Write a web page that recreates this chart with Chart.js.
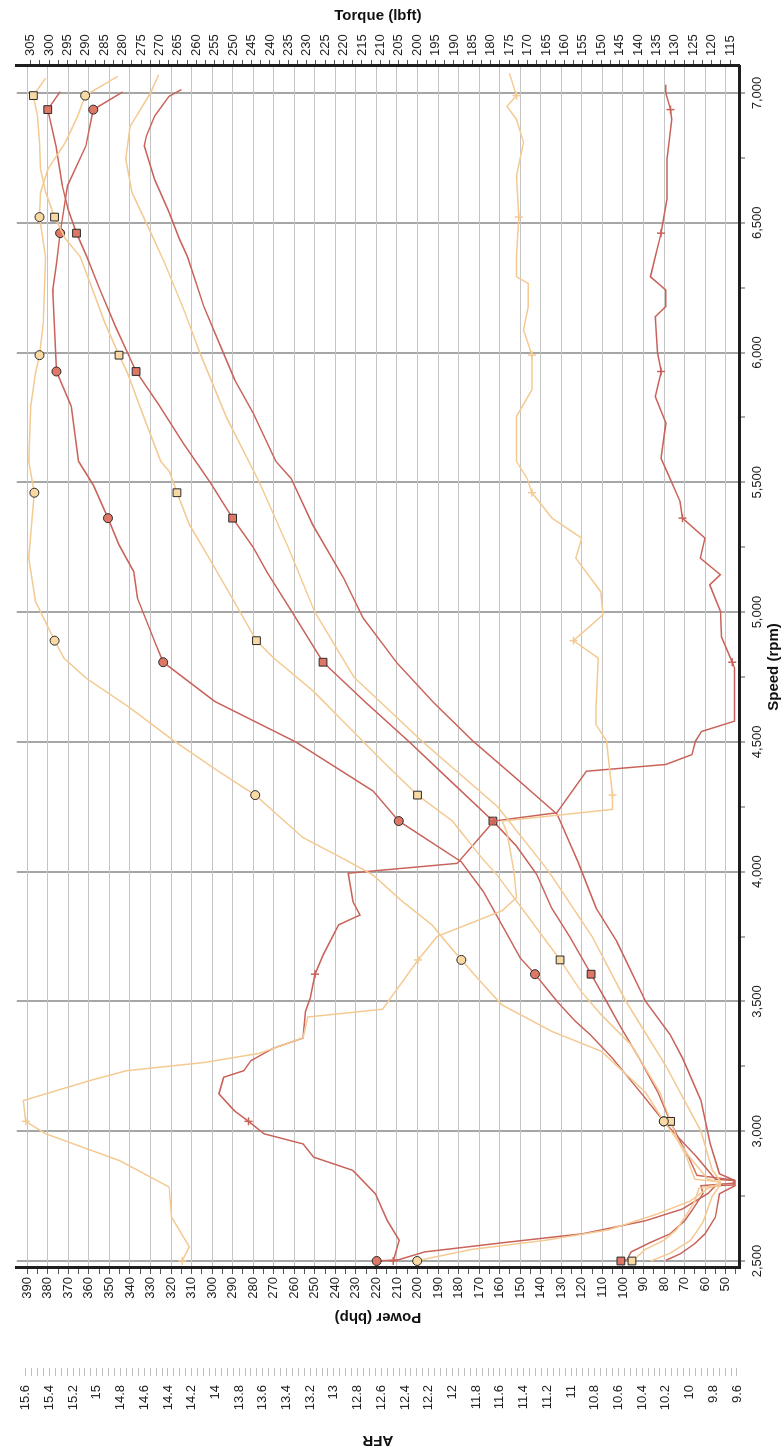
<!DOCTYPE html>
<html>
<head>
<meta charset="utf-8">
<script src="https://cdn.jsdelivr.net/npm/chart.js@4.4.1/dist/chart.umd.min.js"></script>
<style>
  html, body { margin: 0; padding: 0; background: #fff; overflow: hidden; }
  body { width: 783px; height: 1456px; position: relative; }
  /* the dyno sheet is scanned sideways: draw it landscape, then turn it */
  #dyno { position: absolute; left: 0; top: 0; transform-origin: 0 0;
          transform: translateY(1456px) rotate(-90deg); }
</style>
</head>
<body>
<canvas id="dyno" width="1456" height="783"></canvas>
<script>
// ---- tick labels ----
const speedTicks = [2500, 3000, 3500, 4000, 4500, 5000, 5500, 6000, 6500, 7000];
const powerTicks = [390, 380, 370, 360, 350, 340, 330, 320, 310, 300, 290, 280, 270, 260, 250, 240, 230, 220,
  210, 200, 190, 180, 170, 160, 150, 140, 130, 120, 110, 100, 90, 80, 70, 60, 50];
const torqueTicks = [305, 300, 295, 290, 285, 280, 275, 270, 265, 260, 255, 250, 245, 240, 235, 230, 225, 220,
  215, 210, 205, 200, 195, 190, 185, 180, 175, 170, 165, 160, 155, 150, 145, 140, 135, 130, 125, 120, 115];
const afrTicks = [15.6, 15.4, 15.2, 15, 14.8, 14.6, 14.4, 14.2, 14, 13.8, 13.6, 13.4, 13.2, 13, 12.8, 12.6,
  12.4, 12.2, 12, 11.8, 11.6, 11.4, 11.2, 11, 10.8, 10.6, 10.4, 10.2, 10, 9.8, 9.6];

// ---- marker positions (rpm) for each run ----
const redMarks = [2500, 3038, 3605, 4195, 4807, 5362, 5927, 6460, 6936];
const peachMarks = [2500, 3038, 3660, 4295, 4890, 5460, 5990, 6522, 6990];

// ---- run 1 (red) ----
const redPowerRpm = [2500, 2505, 2535, 2570, 2605, 2655, 2700, 2760, 2790, 2800, 2812, 2830, 2900, 2960, 3038,
  3150, 3280, 3400, 3500, 3605, 3750, 3860, 3990, 4100, 4195, 4350, 4500, 4650, 4807, 5000, 5150, 5250, 5362,
  5500, 5650, 5800, 5927, 6100, 6250, 6370, 6460, 6550, 6645, 6795, 6936, 7005];
const redPowerBhp = [101, 98, 96, 87, 77, 70, 66, 61, 62, 46, 46, 64, 68, 72, 77,
  83, 92, 101, 108, 115.5, 126, 134.7, 142, 152, 163.3, 184, 204, 225, 246, 261, 273, 280, 290,
  301, 314, 326, 337, 347, 355, 361, 366, 370, 373, 376, 380, 374];

const redTorqueRpm = [2500, 2505, 2535, 2570, 2605, 2655, 2700, 2760, 2790, 2793, 2810, 2815, 2900, 2960, 3038,
  3144, 3282, 3372, 3423, 3500, 3605, 3667, 3795, 3923, 4038, 4195, 4311, 4500, 4656, 4807, 4875, 5054, 5156,
  5259, 5362, 5490, 5581, 5793, 5927, 6241, 6343, 6460, 6643, 6796, 6936, 7004];
const redTorqueLbft = [211, 205, 198, 177, 155, 138, 128, 121, 119, 114, 114, 119, 124, 128, 133,
  139, 147, 153, 157, 162, 168, 172, 177, 182, 188, 205, 212, 233, 255, 269, 271, 276, 277,
  281, 284, 288, 292, 294, 298, 299, 298, 297, 295, 290, 288, 280];

const redExtraRpm = [2503, 2528, 2567, 2605, 2669, 2759, 2790, 2810, 2836, 2951, 3118, 3282, 3372, 3500, 3731,
  3859, 4040, 4221, 4360, 4503, 4650, 4804, 4977, 5131, 5336, 5515, 5581, 5767, 5895, 6036, 6177, 6369, 6439,
  6541, 6668, 6796, 6834, 6911, 6987, 7013];
const redExtraBhp = [79, 72, 65, 60, 55, 53, 45.5, 45.5, 53, 57.5, 62, 71, 77, 89, 103,
  113, 122, 132, 152, 173, 192, 210, 226.5, 236, 251, 261.5, 269, 280, 289, 296.5, 304, 312, 316,
  321, 328, 333, 332, 328, 321, 315];

const redAfrRpm = [2500, 2580, 2656, 2759, 2849, 2900, 2951, 2990, 3038, 3079, 3144, 3208, 3233, 3272, 3320,
  3359, 3462, 3513, 3605, 3680, 3795, 3833, 3885, 3994, 4032, 4195, 4227, 4387, 4413, 4451, 4503, 4540, 4580,
  4784, 4807, 4904, 5003, 5105, 5144, 5208, 5285, 5362, 5426, 5541, 5592, 5728, 5830, 5927, 6000, 6138, 6177,
  6241, 6292, 6369, 6460, 6592, 6745, 6898, 6936, 7000, 7032];
const redAfr = [12.5, 12.45, 12.55, 12.65, 12.84, 13.17, 13.26, 13.59, 13.72, 13.84, 13.97, 13.93, 13.76, 13.7, 13.51,
  13.26, 13.24, 13.2, 13.16, 13.09, 12.96, 12.78, 12.84, 12.88, 11.96, 11.65, 11.12, 10.87, 10.2, 9.98, 9.95, 9.9, 9.62,
  9.62, 9.64, 9.73, 9.74, 9.83, 9.74, 9.91, 9.87, 10.06, 10.08, 10.19, 10.24, 10.2, 10.29, 10.24, 10.27, 10.29, 10.2,
  10.2, 10.33, 10.29, 10.24, 10.19, 10.19, 10.15, 10.16, 10.2, 10.2];

// ---- run 2 (peach) ----
const peachPowerRpm = [2500, 2510, 2545, 2580, 2620, 2680, 2730, 2780, 2795, 2805, 2815, 2900, 2960, 3038, 3150,
  3333, 3449, 3538, 3660, 3756, 3859, 3987, 4051, 4195, 4295, 4426, 4541, 4695, 4823, 4890, 5041, 5208, 5336,
  5460, 5541, 5581, 5793, 5921, 5990, 6113, 6292, 6369, 6439, 6522, 6617, 6707, 6809, 6911, 6990, 7057];
const peachPowerBhp = [95.6, 94, 89, 80, 74, 69, 65, 63, 52.6, 52.6, 65, 69, 73, 76.8, 82,
  96, 110.6, 120.3, 130.6, 139.6, 149.2, 161.3, 168.5, 183, 200, 217, 231.4, 250.7, 270, 278.4, 289.3, 301.4, 311,
  317.1, 320.7, 325, 335.2, 341.2, 345.3, 352.1, 360.5, 364.2, 371.4, 376.7, 381, 383.5, 384, 385, 387, 381];

const peachTorqueRpm = [2500, 2510, 2545, 2580, 2620, 2680, 2730, 2780, 2795, 2805, 2815, 2900, 2960, 3038, 3150,
  3308, 3385, 3487, 3564, 3660, 3744, 3795, 3885, 3987, 4042, 4131, 4295, 4387, 4503, 4631, 4746, 4823, 4890,
  5041, 5208, 5460, 5581, 5793, 5921, 5990, 6113, 6369, 6522, 6617, 6707, 6809, 6911, 6990, 7064];
const peachTorqueLbft = [200, 197, 185, 165, 148, 135, 126, 121, 118, 118, 121, 126, 129, 133, 138,
  150, 163.5, 177, 182, 188, 193, 196, 204, 212, 219, 231, 244, 254, 266, 278, 290, 296, 298.5,
  303.7, 305.5, 304, 305.5, 305, 303.7, 302.6, 301.6, 301, 302.6, 302.3, 300.3, 295.6, 292.2, 290.2, 281.4];

const peachExtraRpm = [2500, 2530, 2580, 2650, 2750, 2793, 2808, 2850, 3000, 3250, 3500, 3750, 4000, 4250, 4500,
  4750, 5000, 5250, 5500, 5750, 6000, 6150, 6343, 6464, 6617, 6745, 6870, 7000, 7070];
const peachExtraBhp = [86.5, 77, 67, 61, 56.5, 52.6, 52.6, 56.5, 62, 79, 98.5, 115, 136, 161, 197.5,
  231, 250, 263, 277, 293, 306, 313, 323, 330, 339, 342, 340, 330, 326];

const peachAfrRpm = [2500, 2554, 2669, 2785, 2887, 2990, 3038, 3118, 3195, 3233, 3265, 3300, 3360, 3440, 3470,
  3660, 3750, 3850, 3900, 4000, 4150, 4195, 4240, 4295, 4503, 4567, 4631, 4823, 4890, 4990, 5079, 5208, 5285,
  5362, 5460, 5515, 5581, 5754, 5857, 5990, 6087, 6177, 6266, 6292, 6369, 6522, 6681, 6809, 6898, 6949, 6990, 7077];
const peachAfr = [14.28, 14.22, 14.37, 14.39, 14.81, 15.43, 15.6, 15.62, 15.06, 14.75, 14.09, 13.63, 13.26, 13.22, 12.59,
  12.29, 12.13, 11.58, 11.46, 11.48, 11.54, 11.58, 10.65, 10.65, 10.7, 10.79, 10.79, 10.77, 10.98, 10.73, 10.75, 10.96, 10.91,
  11.16, 11.33, 11.37, 11.46, 11.46, 11.33, 11.33, 11.4, 11.36, 11.36, 11.46, 11.46, 11.44, 11.46, 11.4, 11.46, 11.54, 11.46, 11.52];

// ---- styling ----
const RED = '#c9635a';
const RED_FILL = '#df7767';
const PEACH = '#f4ca92';
const PEACH_FILL = '#f8d8a3';
const FONT = "'Liberation Sans', Arial, sans-serif";
const tickFont = { family: FONT, size: 13 };
const titleFont = { family: FONT, size: 15, weight: 'bold' };

function pts(rpm, vals) {
  return rpm.map((x, i) => ({ x: x, y: vals[i] }));
}

const isMajor = (list, v) => list.some(m => Math.abs(m - v) < 1e-6);

// major ticks from the label list + (parts-1) unlabelled minor ticks between them
function tickSetter(major, parts, step) {
  return scale => {
    const out = [];
    major.forEach(v => {
      for (let k = 0; k < parts; k++) out.push(+(v - k * step / parts).toFixed(3));
    });
    scale.ticks = out
      .filter(v => v >= scale.min - 1e-6 && v <= scale.max + 1e-6)
      .sort((a, b) => a - b)
      .map(value => ({ value }));
  };
}

function lineSet(label, rpm, vals, axis, color, fill, marks, style) {
  const hit = ctx => ctx.raw && marks.includes(ctx.raw.x);
  const r = style === 'rect' ? 5.5 : (style === 'cross' ? 4 : 4.5);
  return {
    label: label,
    data: pts(rpm, vals),
    yAxisID: axis,
    showLine: true,
    borderColor: color,
    borderWidth: 1.5,
    tension: 0,
    pointStyle: style,
    pointRadius: ctx => hit(ctx) ? r : 0,
    pointHoverRadius: ctx => hit(ctx) ? r : 0,
    pointBackgroundColor: fill,
    pointBorderColor: style === 'cross' ? color : '#2a2a2a',
    pointBorderWidth: style === 'cross' ? 1.5 : 1
  };
}

new Chart(document.getElementById('dyno'), {
  type: 'scatter',
  data: {
    datasets: [
      lineSet('Run 2 AFR', peachAfrRpm, peachAfr, 'afr', PEACH, PEACH, peachMarks, 'cross'),
      lineSet('Run 2 power (2)', peachExtraRpm, peachExtraBhp, 'power', PEACH, PEACH_FILL, [], 'circle'),
      lineSet('Run 2 torque', peachTorqueRpm, peachTorqueLbft, 'torque', PEACH, PEACH_FILL, peachMarks, 'circle'),
      lineSet('Run 2 power', peachPowerRpm, peachPowerBhp, 'power', PEACH, PEACH_FILL, peachMarks, 'rect'),
      lineSet('Run 1 AFR', redAfrRpm, redAfr, 'afr', RED, RED, redMarks, 'cross'),
      lineSet('Run 1 power (2)', redExtraRpm, redExtraBhp, 'power', RED, RED_FILL, [], 'circle'),
      lineSet('Run 1 torque', redTorqueRpm, redTorqueLbft, 'torque', RED, RED_FILL, redMarks, 'circle'),
      lineSet('Run 1 power', redPowerRpm, redPowerBhp, 'power', RED, RED_FILL, redMarks, 'rect')
    ]
  },
  options: {
    responsive: false,
    devicePixelRatio: 1,
    animation: false,
    events: [],
    layout: { padding: { top: 11, left: 0, right: 0, bottom: 0 }, autoPadding: false },
    plugins: { legend: { display: false }, tooltip: { enabled: false } },
    scales: {
      x: {
        type: 'linear',
        position: 'bottom',
        min: 2473,
        max: 7104,
        afterBuildTicks: tickSetter(speedTicks, 2, 500),
        afterFit: s => { s.height = 44; },
        grid: {
          color: c => (c.tick && isMajor(speedTicks, c.tick.value)) ? '#a6a6a6' : 'rgba(0,0,0,0)',
          lineWidth: 2,
          tickColor: '#555',
          tickLength: 6,
          tickWidth: 1
        },
        border: { display: true, color: '#1e1e1e', width: 3 },
        ticks: {
          autoSkip: false, maxRotation: 0, padding: 5, color: '#222', font: tickFont,
          callback: v => isMajor(speedTicks, v) ? v.toLocaleString('en-US') : ''
        },
        title: { display: true, text: 'Speed (rpm)', color: '#111', font: titleFont, padding: { top: 0, bottom: 0 } }
      },
      power: {
        type: 'linear',
        position: 'left',
        weight: 0,
        min: 43.5,
        max: 395.07,
        afterBuildTicks: tickSetter(powerTicks, 2, 10),
        afterFit: s => { s.width = 100; },
        grid: {
          color: c => (c.tick && isMajor(powerTicks, c.tick.value)) ? '#c4c4c4' : 'rgba(0,0,0,0)',
          lineWidth: 1,
          tickColor: '#555',
          tickLength: 6
        },
        border: { display: true, color: '#1e1e1e', width: 3 },
        ticks: {
          autoSkip: false, padding: 3, color: '#222', font: tickFont,
          callback: v => isMajor(powerTicks, v) ? String(v) : ''
        },
        title: { display: true, text: 'Power (bhp)', color: '#111', font: titleFont, padding: { top: 42, bottom: 0 } }
      },
      afr: {
        type: 'linear',
        position: 'left',
        weight: 1,
        min: 9.583,
        max: 15.675,
        afterBuildTicks: tickSetter(afrTicks, 4, 0.2),
        afterFit: s => { s.width = 88; },
        grid: { drawOnChartArea: false, color: '#bdbdbd', tickColor: '#bdbdbd', tickLength: 8 },
        border: { display: false },
        ticks: {
          autoSkip: false, padding: 9, color: '#222', font: tickFont,
          callback: v => {
            const m = afrTicks.find(t => Math.abs(t - v) < 1e-6);
            return m === undefined ? '' : String(m);
          }
        },
        title: { display: true, text: 'AFR', color: '#111', font: titleFont, padding: { top: 7, bottom: 0 } }
      },
      torque: {
        type: 'linear',
        position: 'right',
        min: 112.57,
        max: 308.77,
        afterBuildTicks: tickSetter(torqueTicks, 2, 5),
        afterFit: s => { s.width = 66; },
        grid: { drawOnChartArea: false, color: '#555', tickColor: '#555', tickLength: 6 },
        border: { display: true, color: '#1e1e1e', width: 3 },
        ticks: {
          autoSkip: false, padding: 4, color: '#222', font: tickFont,
          callback: v => isMajor(torqueTicks, v) ? String(v) : ''
        },
        title: { display: true, text: 'Torque (lbft)', color: '#111', font: titleFont, padding: { top: 7, bottom: 0 } }
      }
    }
  }
});
</script>
</body>
</html>
